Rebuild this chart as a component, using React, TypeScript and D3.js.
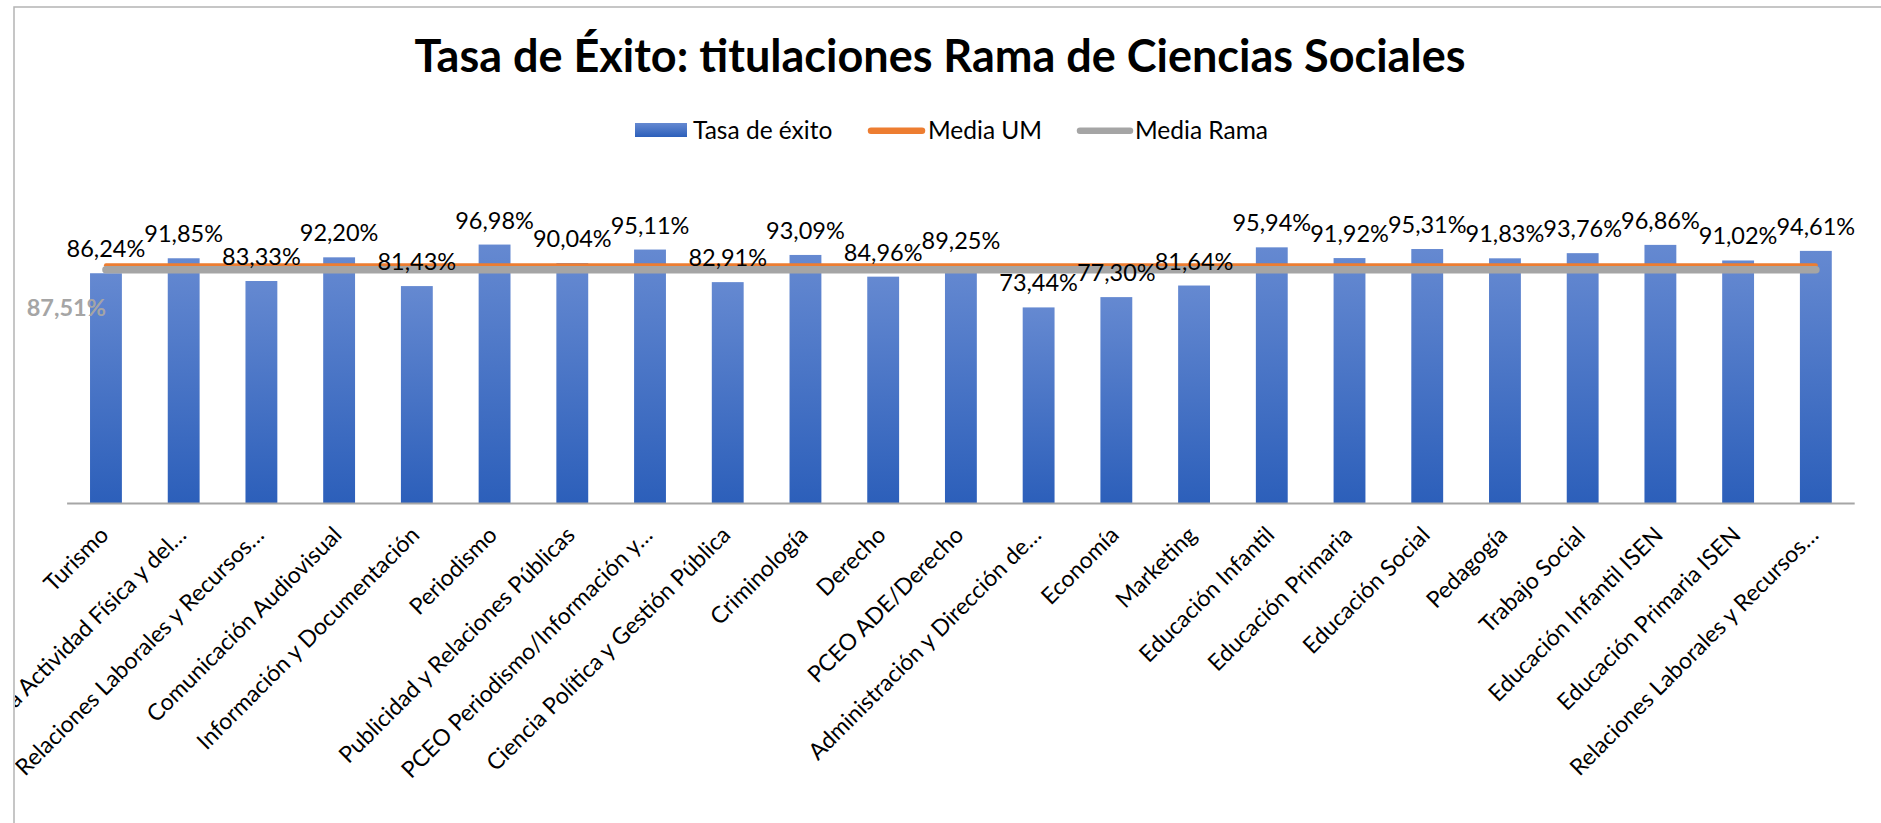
import * as d3 from "d3";

const categories = [
  "Turismo",
  "Ciencias de la Actividad Física y del…",
  "Relaciones Laborales y Recursos…",
  "Comunicación Audiovisual",
  "Información y Documentación",
  "Periodismo",
  "Publicidad y Relaciones Públicas",
  "PCEO Periodismo/Información y…",
  "Ciencia Política y Gestión Pública",
  "Criminología",
  "Derecho",
  "PCEO ADE/Derecho",
  "Administración y Dirección de…",
  "Economía",
  "Marketing",
  "Educación Infantil",
  "Educación Primaria",
  "Educación Social",
  "Pedagogía",
  "Trabajo Social",
  "Educación Infantil ISEN",
  "Educación Primaria ISEN",
  "Relaciones Laborales y Recursos… ",
];

const tasaExito = [
  86.24, 91.85, 83.33, 92.2, 81.43, 96.98, 90.04, 95.11, 82.91, 93.09, 84.96,
  89.25, 73.44, 77.3, 81.64, 95.94, 91.92, 95.31, 91.83, 93.76, 96.86, 91.02,
  94.61,
];

const mediaUM = 89.2;
const mediaRama = 87.51;

const seriesNames = ["Tasa de éxito", "Media UM", "Media Rama"];

const FONT = "Lato, 'Open Sans', sans-serif";
const W = 1881;
const H = 823;

const fmt = (v: number) => d3.format(".2f")(v).replace(".", ",") + "%";

export default function App() {
  const x = d3
    .scaleBand()
    .domain(categories)
    .range([67.1, 1854.7])
    .paddingInner(0.59)
    .paddingOuter(0.295);
  const y = d3.scaleLinear().domain([0, 120]).range([503.5, 183.1]);
  const cx = (c: string) => (x(c) || 0) + x.bandwidth() / 2;

  const line = d3.line<string>().x((c) => cx(c));
  const umPath = line.y(() => y(mediaUM))(categories) || "";
  const ramaPath = line.y(() => y(mediaRama))(categories) || "";

  return (
    <svg
      width={W}
      height={H}
      style={{ position: "absolute", left: 0, top: 0, background: "#fff" }}
      fontFamily={FONT}
    >
      <defs>
        <linearGradient id="barGrad" x1="0" y1="0" x2="0" y2="1">
          <stop offset="0%" stopColor="#6589d1" />
          <stop offset="100%" stopColor="#2c5fba" />
        </linearGradient>
        <clipPath id="frameClip">
          <rect x={15} y={8} width={W} height={H} />
        </clipPath>
      </defs>

      {/* chart frame */}
      <rect x={14} y={7} width={W + 10} height={H + 10} fill="#fff" stroke="#b4b4b4" strokeWidth={1.5} />

      <text x={940} y={72} textAnchor="middle" fontSize={45} fontWeight={700} fill="#000">
        Tasa de Éxito: titulaciones Rama de Ciencias Sociales
      </text>

      {/* legend */}
      <g fontSize={24.5} fill="#000">
        <rect x={635} y={123} width={52} height={14} fill="url(#barGrad)" />
        <text x={693} y={138.5}>{seriesNames[0]}</text>
        <line x1={871} x2={922} y1={130.7} y2={130.7} stroke="#ed7d31" strokeWidth={6.5} strokeLinecap="round" />
        <text x={928} y={138.5}>{seriesNames[1]}</text>
        <line x1={1080} x2={1130} y1={130.7} y2={130.7} stroke="#a5a5a5" strokeWidth={6.5} strokeLinecap="round" />
        <text x={1135} y={138.5}>{seriesNames[2]}</text>
      </g>

      {/* bars */}
      {categories.map((c, i) => (
        <rect
          key={c}
          x={x(c)}
          y={y(tasaExito[i])}
          width={x.bandwidth()}
          height={y(0) - y(tasaExito[i])}
          fill="url(#barGrad)"
        />
      ))}

      {/* axis line */}
      <line x1={x.range()[0]} x2={x.range()[1]} y1={y(0)} y2={y(0)} stroke="#a6a6a6" strokeWidth={2} />

      {/* average lines */}
      <path d={umPath} fill="none" stroke="#ed7d31" strokeWidth={4} strokeLinecap="round" />
      <path d={ramaPath} fill="none" stroke="#a5a5a5" strokeWidth={7.5} strokeLinecap="round" />

      {/* data labels */}
      <g fontSize={23.5} fill="#000" textAnchor="middle">
        {categories.map((c, i) => (
          <text key={c} x={cx(c)} y={y(tasaExito[i]) - 25} dominantBaseline="central">
            {fmt(tasaExito[i])}
          </text>
        ))}
      </g>
      <text
        x={cx(categories[0])}
        y={y(mediaRama) + 37.5}
        textAnchor="end"
        dominantBaseline="central"
        fontSize={23.5}
        fontWeight={700}
        fill="#a5a5a5"
      >
        {fmt(mediaRama)}
      </text>

      {/* category labels */}
      <g clipPath="url(#frameClip)" fontSize={23} fill="#000" textAnchor="end">
        {categories.map((c) => (
          <text key={c} transform={`translate(${cx(c) + 4},${y(0) + 33}) rotate(-45)`}>
            {c.trim()}
          </text>
        ))}
      </g>
    </svg>
  );
}
